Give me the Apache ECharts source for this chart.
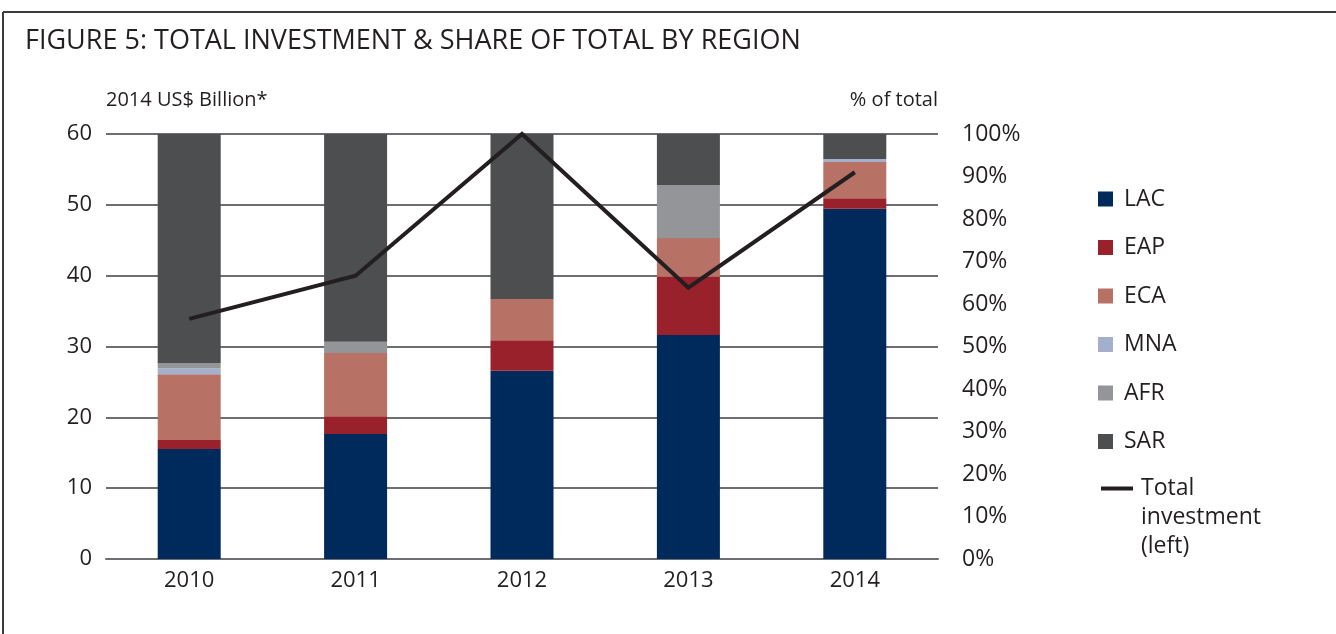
<!DOCTYPE html>
<html>
<head>
<meta charset="utf-8">
<script src="https://cdn.jsdelivr.net/npm/echarts@6/dist/echarts.min.js"></script>
<style>
  html, body { margin: 0; padding: 0; background: #fff; }
  #chart { width: 1336px; height: 634px; }
</style>
</head>
<body>
<div id="chart"></div>
<script>
// categories
var years = ['2010', '2011', '2012', '2013', '2014'];

// share of total by region, % (right axis)
var lac = [25.9, 29.4, 44.3, 52.7, 82.4];
var eap = [2.1, 4.2, 7.2, 13.7, 2.5];
var eca = [15.5, 14.9, 9.7, 9.1, 8.5];
var mna = [1.4, 0, 0, 0, 0.7];
var afr = [1.2, 2.6, 0, 12.5, 0];
var sar = [53.9, 48.9, 38.8, 12.0, 5.9];

// total investment, 2014 US$ billion (left axis)
var totalInv = [33.9, 40.0, 60.0, 38.3, 54.6];

var leftTicks = [0, 60, 10];
var rightTicks = [0, 100, 10];

var FONT = '"Open Sans", "Noto Sans", sans-serif';
var INK = '#231f20';
var GRIDC = '#6d6e71';

var regions = [
    { name: 'LAC', data: lac, color: '#012a5c' },
    { name: 'EAP', data: eap, color: '#98212b' },
    { name: 'ECA', data: eca, color: '#b87165' },
    { name: 'MNA', data: mna, color: '#a3afcb' },
    { name: 'AFR', data: afr, color: '#939598' },
    { name: 'SAR', data: sar, color: '#4d4e50' }
];

var series = [];
for (var i = 0; i < regions.length; i++) {
    var r = regions[i];
    series.push({
        name: r.name,
        type: 'bar',
        stack: 'share',
        yAxisIndex: 1,
        barWidth: 63,
        data: r.data,
        itemStyle: { color: r.color },
        emphasis: { disabled: true }
    });
}
series.push({
    name: 'Total investment (left)',
    type: 'line',
    yAxisIndex: 0,
    data: totalInv,
    showSymbol: false,
    symbol: 'none',
    clip: false,
    z: 10,
    lineStyle: { color: INK, width: 4, join: 'miter' },
    itemStyle: { color: INK }
});

var myChart = echarts.init(document.getElementById('chart'), null, { renderer: 'canvas' });

var option = {
    animation: false,
    backgroundColor: '#fff',
    textStyle: { fontFamily: FONT, color: INK },
    title: {
        text: 'FIGURE 5: TOTAL INVESTMENT & SHARE OF TOTAL BY REGION',
        left: 25,
        top: 28,
        padding: 0,
        textStyle: { fontFamily: FONT, fontSize: 27, fontWeight: 'normal', color: INK }
    },
    graphic: [
        { type: 'line', shape: { x1: 3, y1: 12, x2: 1336, y2: 12 }, style: { stroke: '#3c3c3c', lineWidth: 2 } },
        { type: 'line', shape: { x1: 3, y1: 12, x2: 3, y2: 634 }, style: { stroke: '#3c3c3c', lineWidth: 2 } }
    ],
    legend: [{
        orient: 'vertical',
        left: 1098,
        top: 187,
        padding: 0,
        itemWidth: 15,
        itemHeight: 15,
        itemGap: 24.5,
        icon: 'rect',
        selectedMode: false,
        data: ['LAC', 'EAP', 'ECA', 'MNA', 'AFR', 'SAR'],
        textStyle: { fontFamily: FONT, fontSize: 23, color: INK, lineHeight: 24, padding: [0, 0, 0, 6] }
    }, {
        orient: 'vertical',
        left: 1101,
        top: 474,
        padding: 0,
        itemWidth: 32,
        itemHeight: 62,
        selectedMode: false,
        data: [{ name: 'Total investment (left)', icon: 'path://M0,0H32V4H0Z M0,62H0.01V61.99Z' }],
        formatter: function () { return 'Total\ninvestment\n(left)'; },
        textStyle: { fontFamily: FONT, fontSize: 23, color: INK, lineHeight: 29, padding: [0, 0, 0, 3] }
    }],
    grid: { left: 106, right: 398, top: 134, bottom: 75, containLabel: false },
    xAxis: {
        type: 'category',
        data: years,
        axisLine: { show: true, lineStyle: { color: GRIDC, width: 2 } },
        axisTick: { show: false },
        axisLabel: { fontFamily: FONT, fontSize: 22, color: INK, margin: 11 }
    },
    yAxis: [{
        type: 'value',
        position: 'left',
        min: leftTicks[0],
        max: leftTicks[1],
        interval: leftTicks[2],
        name: '2014 US$ Billion*',
        nameLocation: 'end',
        nameGap: 24,
        nameTextStyle: { fontFamily: FONT, fontSize: 20, color: INK, align: 'left' },
        axisLine: { show: false },
        axisTick: { show: false },
        axisLabel: { fontFamily: FONT, fontSize: 22, color: INK, margin: 14 },
        splitLine: { show: true, lineStyle: { color: GRIDC, width: 2 } }
    }, {
        type: 'value',
        position: 'right',
        min: rightTicks[0],
        max: rightTicks[1],
        interval: rightTicks[2],
        name: '% of total',
        nameLocation: 'end',
        nameGap: 24,
        nameTextStyle: { fontFamily: FONT, fontSize: 20, color: INK, align: 'right' },
        axisLine: { show: false },
        axisTick: { show: false },
        axisLabel: { fontFamily: FONT, fontSize: 23, color: INK, margin: 24, formatter: '{value}%' },
        splitLine: { show: false }
    }],
    series: series
};

myChart.setOption(option);
</script>
</body>
</html>
